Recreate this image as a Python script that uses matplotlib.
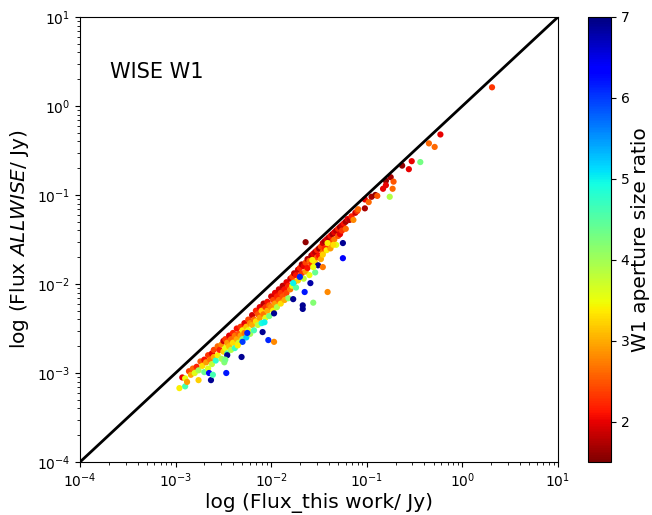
import matplotlib.pyplot as plt
import numpy as np

# log10 of the fluxes (this work, ALLWISE) and W1 aperture size ratio
log_flux_this = [
    -2.96, -2.90, -2.93, -2.90, -2.88, -2.86, -2.84, -2.82, -2.80, -2.78,
    -2.76, -2.76, -2.74, -2.72, -2.70, -2.70, -2.68, -2.66, -2.66, -2.64,
    -2.62, -2.62, -2.60, -2.60, -2.58, -2.56, -2.56, -2.54, -2.52, -2.52,
    -2.50, -2.50,
    -2.48, -2.48, -2.46, -2.46, -2.44, -2.44, -2.42, -2.42, -2.40, -2.40,
    -2.38, -2.38, -2.36, -2.36, -2.34, -2.34, -2.32, -2.32, -2.30, -2.30,
    -2.28, -2.28, -2.26, -2.26, -2.24, -2.24, -2.22, -2.22, -2.20, -2.20,
    -2.18, -2.18, -2.16, -2.16, -2.14, -2.14, -2.12, -2.12, -2.10, -2.10,
    -2.08, -2.08, -2.06, -2.06, -2.04, -2.04, -2.02, -2.02, -2.00, -2.00,
    -1.98, -1.98, -1.96, -1.96, -1.94, -1.94, -1.92, -1.92, -1.90, -1.90,
    -1.88, -1.88, -1.86, -1.86, -1.84, -1.84, -1.82, -1.82, -1.80, -1.80,
    -1.78, -1.78, -1.76, -1.76, -1.74, -1.74, -1.72, -1.72, -1.70, -1.70,
    -1.68, -1.68, -1.66, -1.66, -1.64, -1.64, -1.62, -1.62, -1.60, -1.60,
    -1.58, -1.58, -1.56, -1.56, -1.54, -1.54, -1.52, -1.52, -1.50, -1.50,
    -1.48, -1.48, -1.46, -1.46, -1.44, -1.44, -1.42, -1.42, -1.40, -1.40,
    -1.38, -1.38, -1.36, -1.36, -1.34, -1.34, -1.32, -1.32, -1.30, -1.30,
    -1.28, -1.28, -1.26, -1.26, -1.24, -1.22, -1.22, -1.20, -1.18, -1.16,
    -1.14, -1.12, -1.10, -1.09, -1.02, -1.02, -0.98, -0.95, -0.91, -0.89,
    -0.83, -0.80, -0.80, -0.75, -0.73, -0.72, -0.63, -0.56, -0.53, -0.35,
    -0.29, -0.23, 0.31,
    # scattered points below the band
    -2.63, -2.47, -2.65, -2.61, -2.49, -2.46, -2.31, -2.30, -2.25, -2.35,
    -2.48, -2.03, -1.97, -2.09, -1.97, -2.07, -1.77, -1.67, -1.67, -1.56,
    -1.59, -1.65, -1.41, -1.64, -1.25, -1.25, -0.44, -0.76, -1.54, -1.70,
    -1.77, -1.51, -1.35, -1.41, -1.57, -1.56, -1.46, -1.46,
]
log_flux_allwise = [
    -3.17, -3.15, -3.05, -3.06, -3.10, -2.98, -3.02, -2.95, -3.00, -2.93,
    -2.97, -3.08, -2.87, -2.92, -2.85, -2.99, -2.88, -2.80, -2.95, -2.85,
    -2.78, -2.90, -2.82, -2.74, -2.86, -2.70, -2.80, -2.74, -2.68, -2.84,
    -2.64, -2.76,
    -2.62, -2.72, -2.66, -2.78, -2.58, -2.70, -2.62, -2.74, -2.55, -2.66,
    -2.58, -2.72, -2.50, -2.62, -2.56, -2.66, -2.48, -2.58, -2.52, -2.62,
    -2.44, -2.55, -2.48, -2.60, -2.40, -2.52, -2.44, -2.56, -2.35, -2.46,
    -2.40, -2.52, -2.30, -2.42, -2.34, -2.46, -2.26, -2.38, -2.30, -2.44,
    -2.22, -2.34, -2.26, -2.38, -2.20, -2.30, -2.24, -2.36, -2.14, -2.26,
    -2.18, -2.30, -2.10, -2.22, -2.14, -2.26, -2.06, -2.18, -2.10, -2.22,
    -2.02, -2.14, -2.06, -2.18, -1.98, -2.10, -2.02, -2.16, -1.94, -2.06,
    -1.92, -2.02, -1.88, -1.98, -1.90, -2.04, -1.84, -1.96, -1.82, -1.92,
    -1.78, -1.88, -1.80, -1.94, -1.76, -1.86, -1.72, -1.82, -1.74, -1.90,
    -1.68, -1.78, -1.66, -1.74, -1.64, -1.76, -1.62, -1.70, -1.60, -1.68,
    -1.58, -1.72, -1.54, -1.64, -1.52, -1.60, -1.50, -1.62, -1.48, -1.56,
    -1.46, -1.60, -1.44, -1.52, -1.42, -1.50, -1.40, -1.56, -1.38, -1.46,
    -1.36, -1.44, -1.34, -1.40, -1.32, -1.30, -1.38, -1.27, -1.28, -1.24,
    -1.28, -1.20, -1.18, -1.16, -1.05, -1.15, -1.08, -1.02, -1.00, -1.01,
    -0.93, -0.84, -0.89, -0.80, -0.93, -0.85, -0.67, -0.71, -0.62, -0.42,
    -0.46, -0.32, 0.21,
    -3.08, -3.00, -3.00, -3.02, -2.88, -2.80, -2.82, -2.65, -2.55, -2.69,
    -2.85, -2.63, -2.65, -2.54, -2.33, -2.43, -2.17, -2.24, -2.28, -2.21,
    -1.99, -2.09, -2.09, -1.53, -1.54, -1.71, -0.63, -1.02, -1.87, -1.92,
    -1.99, -1.79, -1.56, -1.54, -1.73, -1.81, -1.81, -1.67,
]
size_ratio = [
    3.4, 4.6, 2.0, 3.5, 2.9, 2.4, 3.0, 2.6, 3.6, 2.2,
    4.0, 3.2, 2.5, 3.3, 2.1, 4.4, 2.9, 2.3, 3.6, 2.7,
    2.0, 3.8, 3.0, 2.4, 4.8, 2.6, 3.4, 2.2, 2.8, 4.0,
    1.9, 3.2,
    2.3, 3.5, 2.9, 4.5, 2.0, 3.1, 2.6, 3.9, 2.2, 3.3,
    2.7, 4.7, 2.1, 3.0, 2.5, 3.7, 2.3, 2.9, 3.4, 4.2,
    2.0, 2.7, 3.1, 5.2, 2.4, 3.5, 2.8, 4.0, 1.9, 3.0,
    2.6, 4.6, 2.2, 3.3, 2.5, 3.8, 2.0, 2.9, 3.2, 4.9,
    1.8, 2.7, 2.3, 3.6, 2.1, 3.0, 2.6, 4.3, 1.9, 2.8,
    2.4, 3.4, 2.0, 2.9, 2.2, 3.9, 1.9, 2.6, 2.3, 3.3,
    1.8, 2.5, 2.1, 3.0, 2.0, 2.4, 2.2, 4.1, 1.9, 2.7,
    2.4, 3.6, 1.8, 2.8, 2.1, 4.5, 1.9, 3.2, 2.2, 2.6,
    1.7, 2.3, 2.0, 3.8, 2.4, 2.9, 1.8, 2.1, 2.6, 3.5,
    1.7, 2.3, 2.0, 2.8, 1.8, 3.3, 2.2, 2.5, 1.7, 2.1,
    2.4, 3.0, 1.9, 2.6, 1.7, 2.2, 2.0, 3.4, 1.8, 2.3,
    2.1, 2.9, 1.7, 2.4, 2.0, 2.7, 1.8, 3.6, 2.2, 2.5,
    1.7, 2.0, 1.9, 2.3, 2.1, 1.7, 2.6, 2.0, 1.8, 2.2,
    2.8, 1.9, 2.3, 2.6, 2.0, 1.7, 2.6, 1.7, 1.6, 2.5,
    2.0, 1.6, 2.0, 1.7, 2.6, 2.5, 1.6, 2.0, 2.0, 2.6,
    2.6, 2.0, 2.3,
    6.9, 6.2, 6.4, 4.6, 4.2, 6.9, 6.9, 6.0, 6.1, 3.4,
    4.3, 6.1, 2.8, 6.9, 6.9, 5.0, 6.9, 6.9, 6.9, 4.2,
    6.8, 6.2, 2.8, 1.6, 6.9, 6.3, 4.3, 3.9, 4.4, 6.1,
    5.0, 6.9, 3.3, 3.4, 3.4, 3.5, 2.7, 3.2,
]

x = 10 ** np.array(log_flux_this)
y = 10 ** np.array(log_flux_allwise)

fig = plt.figure(figsize=(6.52, 5.15), dpi=100)
ax = fig.add_axes([0.1227, 0.1029, 0.7331, 0.8641])
cax = fig.add_axes([0.9018, 0.1029, 0.0353, 0.8641])

sc = ax.scatter(x, y, c=size_ratio, cmap='jet_r', vmin=1.5, vmax=7, s=20, linewidths=0)
ax.plot([1e-4, 1e1], [1e-4, 1e1], color='black', lw=2)

ax.set_xscale('log')
ax.set_yscale('log')
ax.set_xlim(1e-4, 1e1)
ax.set_ylim(1e-4, 1e1)
ax.set_xlabel('log (Flux_this work/ Jy)', fontsize=14.5, labelpad=2)
ax.set_ylabel(r'log (Flux $\mathit{ALLWISE}$/ Jy)', fontsize=14.5)
ax.text(0.063, 0.876, 'WISE W1', transform=ax.transAxes, fontsize=15, va='center')

cb = fig.colorbar(sc, cax=cax)
cb.set_ticks([2, 3, 4, 5, 6, 7])
cb.set_label('W1 aperture size ratio', fontsize=14.5, labelpad=1)

fig.savefig('out.png', dpi=100)
